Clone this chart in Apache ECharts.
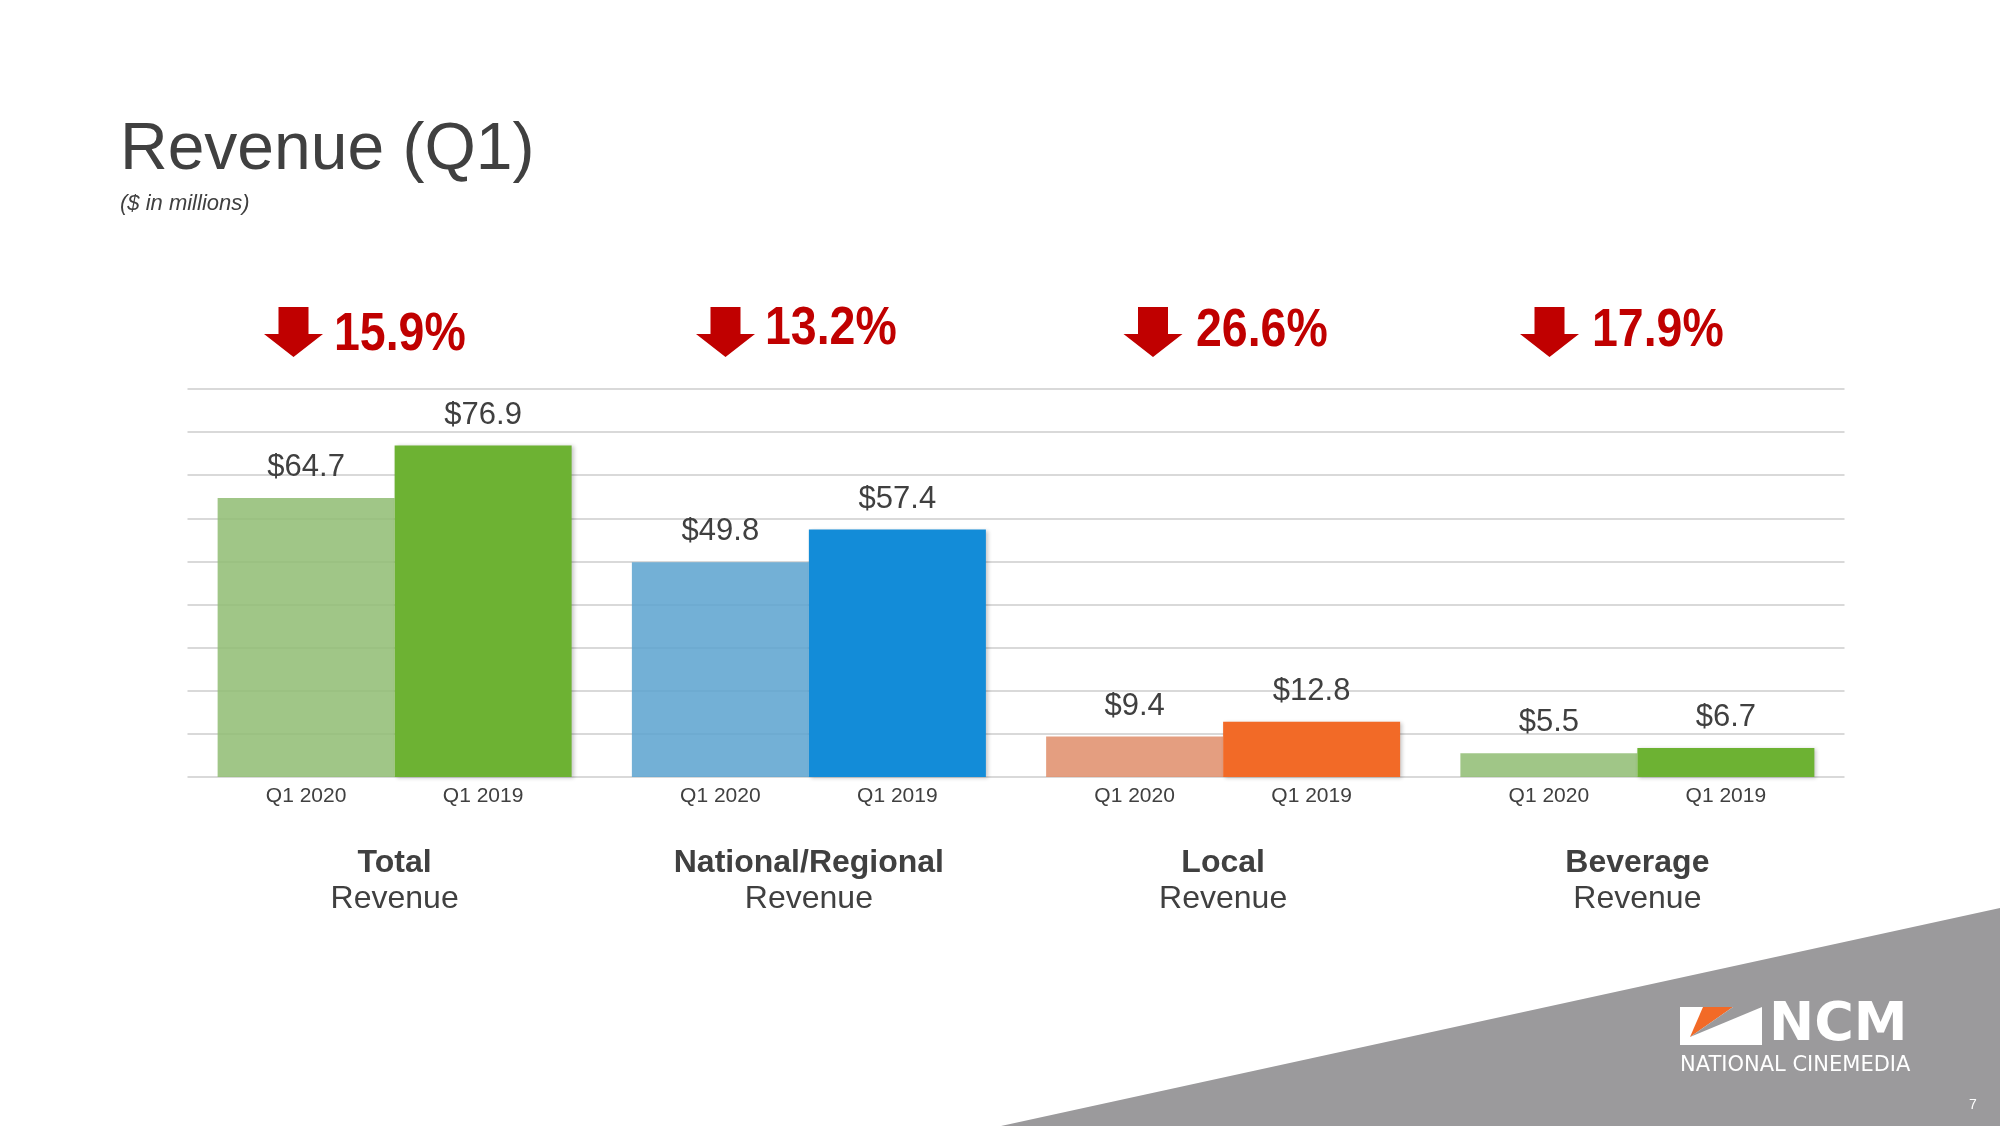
<!DOCTYPE html>
<html><head><meta charset="utf-8">
<script src="https://cdn.jsdelivr.net/npm/echarts@6/dist/echarts.min.js"></script>
<style>html,body{margin:0;padding:0;background:#fff}#c{width:2000px;height:1126px}</style>
</head><body><div id="c"></div>
<script>
// ---- data ----
const categoryNames = ['Total', 'National/Regional', 'Local', 'Beverage'];
const categorySubNames = ['Revenue', 'Revenue', 'Revenue', 'Revenue'];
const periods = ['Q1 2020', 'Q1 2019'];
const values2020 = [64.7, 49.8, 9.4, 5.5];
const values2019 = [76.9, 57.4, 12.8, 6.7];
const changeLabels = ['15.9%', '13.2%', '26.6%', '17.9%'];
const yAxisMax = 90;
const yAxisStep = 10;

// ---- styles ----
const colors2020 = ['rgba(143,188,114,0.85)', 'rgba(90,162,207,0.85)', 'rgba(223,141,106,0.85)', 'rgba(143,188,114,0.85)'];
const colors2019 = ['#6DB233', '#138CD8', '#F26A27', '#6DB233'];
const TXT = '#404040';
const RED = '#C00000';
const SANS = '"Liberation Sans", Arial, sans-serif';

const chart = echarts.init(document.getElementById('c'));

const shadow = {shadowBlur: 4, shadowColor: 'rgba(0,0,0,0.22)', shadowOffsetX: 2, shadowOffsetY: 1};

function periodLabelSeries(stack, name) {
  return {
    type: 'bar', name: name, stack: stack, barWidth: 177, barGap: '0%', silent: true,
    data: categoryNames.map(() => 0),
    itemStyle: {color: 'rgba(0,0,0,0)'},
    label: {show: true, position: 'bottom', distance: 9, formatter: name,
            fontFamily: SANS, fontSize: 21, color: TXT}
  };
}
function valueSeries(stack, name, vals, cols, withShadow) {
  return {
    type: 'bar', name: name, stack: stack, barWidth: 177, barGap: '0%',
    data: vals.map((v, i) => ({value: v, itemStyle: Object.assign({color: cols[i]}, withShadow ? shadow : {})})),
    label: {show: true, position: 'top', distance: 15,
            formatter: p => '$' + p.value.toFixed(1),
            fontFamily: SANS, fontSize: 31, color: TXT}
  };
}

// arrows + percentage annotations (decoration)
const arrowCenters = [293.5, 725.5, 1153, 1549.5];
const pctLefts = [334, 765, 1196, 1592];
const pctMid = [335, 329, 331, 331];
const graphics = [];
arrowCenters.forEach((cx, i) => {
  graphics.push({
    type: 'polygon', silent: true,
    shape: {points: [[cx - 15, 307], [cx + 15, 307], [cx + 15, 334], [cx + 29.5, 334], [cx, 357], [cx - 29.5, 334], [cx - 15, 334]]},
    style: {fill: RED}
  });
  graphics.push({
    type: 'text', x: pctLefts[i], y: pctMid[i], scaleX: 0.86, silent: true,
    style: {text: changeLabels[i], font: 'bold 54px ' + SANS, fill: RED, align: 'left', verticalAlign: 'middle'}
  });
});
// title
graphics.push({type: 'text', x: 120, y: 151, style: {text: 'Revenue (Q1)', font: '66px ' + SANS, fill: TXT, verticalAlign: 'middle'}});
graphics.push({type: 'text', x: 120, y: 204, style: {text: '($ in millions)', font: 'italic 22px ' + SANS, fill: TXT, verticalAlign: 'middle'}});
// grey corner
graphics.push({type: 'polygon', z: -10, silent: true, shape: {points: [[1001, 1126], [2000, 908], [2000, 1126]]}, style: {fill: '#9B9A9C'}});
// logo
graphics.push({type: 'rect', shape: {x: 1680, y: 1007, width: 82, height: 38}, style: {fill: '#fff'}});
graphics.push({type: 'polygon', shape: {points: [[1703, 1007], [1733, 1007], [1690, 1037]]}, style: {fill: '#F26A27'}});
graphics.push({type: 'polygon', shape: {points: [[1733, 1007], [1762, 1007], [1690, 1037]]}, style: {fill: '#9B9A9C'}});
graphics.push({type: 'text', x: 1769, y: 1026, style: {text: 'NCM', font: 'bold 54px "DejaVu Sans", sans-serif', fill: '#fff', verticalAlign: 'middle'}});
graphics.push({type: 'text', x: 1680, y: 1066, style: {text: 'NATIONAL CINEMEDIA', font: '21px "DejaVu Sans", sans-serif', fill: '#fff', verticalAlign: 'middle'}});
graphics.push({type: 'text', x: 1973, y: 1105, style: {text: '7', font: '14px ' + SANS, fill: '#fff', align: 'center', verticalAlign: 'middle'}});

chart.setOption({
  animation: false,
  backgroundColor: '#fff',
  grid: {left: 187.5, right: 155.5, top: 389, bottom: 349},
  xAxis: {
    type: 'category', data: categoryNames,
    axisLine: {show: false}, axisTick: {show: false},
    axisLabel: {
      margin: 68, interval: 0,
      formatter: (v, i) => '{b|' + v + '}\n{r|' + categorySubNames[i] + '}',
      rich: {
        b: {fontFamily: SANS, fontWeight: 'bold', fontSize: 32, color: TXT, lineHeight: 36, align: 'center'},
        r: {fontFamily: SANS, fontSize: 32, color: TXT, lineHeight: 36, align: 'center'}
      }
    }
  },
  yAxis: {
    type: 'value', min: 0, max: yAxisMax, interval: yAxisStep,
    axisLabel: {show: false}, axisLine: {show: false}, axisTick: {show: false},
    splitLine: {lineStyle: {color: '#D9D9D9', width: 2}}
  },
  series: [
    periodLabelSeries('a', periods[0]),
    periodLabelSeries('b', periods[1]),
    valueSeries('a', periods[0], values2020, colors2020, false),
    valueSeries('b', periods[1], values2019, colors2019, true)
  ],
  graphic: graphics
});
</script>
</body></html>
